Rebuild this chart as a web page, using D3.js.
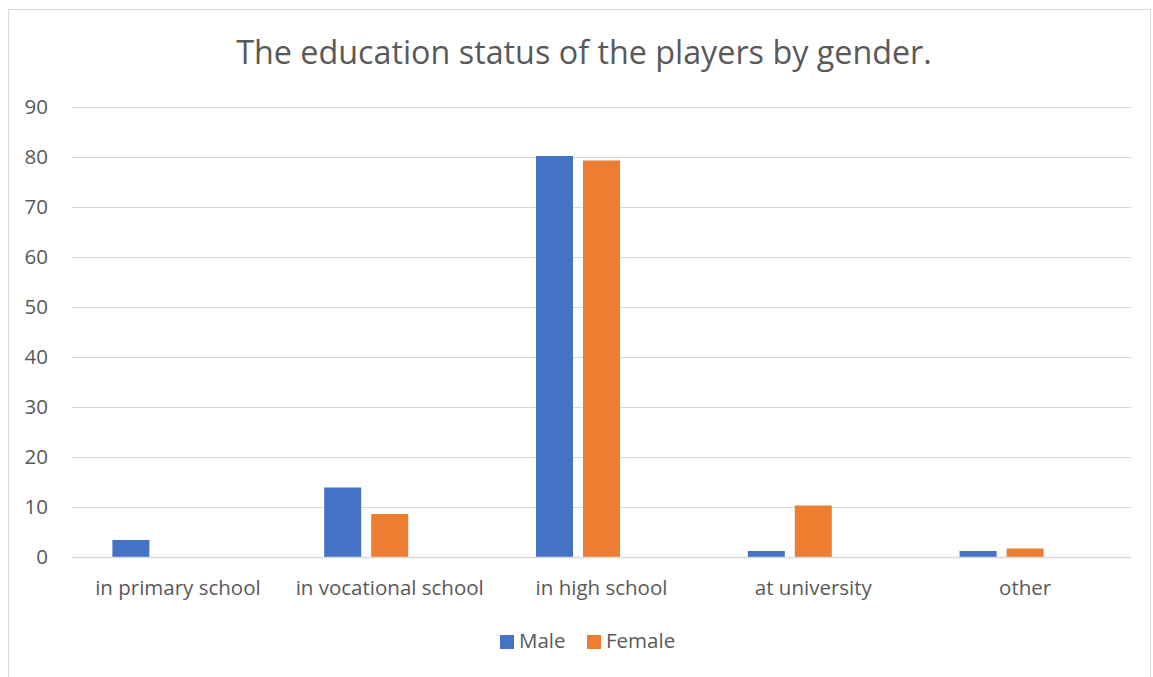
<!DOCTYPE html>
<html><head><meta charset="utf-8">
<script src="https://cdn.jsdelivr.net/npm/d3@7"></script>
<style>body{margin:0;background:#fff;} svg{display:block;}</style>
</head><body>
<svg id="chart" width="1153" height="677"></svg>
<script>
const categories = ["in primary school","in vocational school","in high school","at university","other"];
const seriesNames = ["Male","Female"];
const maleValues = [3.4, 13.9, 80.2, 1.2, 1.2];
const femaleValues = [0, 8.6, 79.3, 10.3, 1.7];
const yTicks = [0,10,20,30,40,50,60,70,80,90];
const titleText = "The education status of the players by gender.";
const colors = ["#4472c4","#ed7d31"];

(function(){
const svg = d3.select("#chart");
const font = "'Open Sans', sans-serif";
const textColor = "#595959";

// frame
svg.append("rect").attr("x",8.5).attr("y",9.5).attr("width",1142).attr("height",700)
  .attr("fill","#fff").attr("stroke","#d9d9d9").attr("stroke-width",1);

const pLeft = 72, pRight = 1131, pTop = 107, pBottom = 557;
const x = d3.scaleBand().domain(categories).range([pLeft,pRight]).paddingInner(0).paddingOuter(0);
// Excel layout: 3 slots (third series empty)
const slotW = 37, gap = 10;
const y = d3.scaleLinear().domain([0,90]).range([pBottom,pTop]);

svg.append("text").attr("x",584).attr("y",64).attr("text-anchor","middle")
  .attr("font-family",font).attr("font-size",32.3).attr("fill",textColor).text(titleText);

// gridlines
svg.append("g").selectAll("line").data(yTicks).join("line")
  .attr("x1",pLeft).attr("x2",pRight)
  .attr("y1",d=>Math.round(y(d))+0.5).attr("y2",d=>Math.round(y(d))+0.5)
  .attr("stroke","#d9d9d9").attr("stroke-width",1);

// y axis labels
const yAxis = d3.axisLeft(y).tickValues(yTicks).tickSize(0).tickPadding(0);
const yg = svg.append("g").attr("transform",`translate(${48},0)`).call(yAxis);
yg.select(".domain").remove();
yg.selectAll("text").attr("font-family",font).attr("font-size",20.5).attr("fill",textColor);

// bars
const data = [maleValues, femaleValues];
const groupW = 3*slotW + 2*gap;
data.forEach((vals,si)=>{
  svg.append("g").selectAll("rect").data(vals.map((v,i)=>({v,c:categories[i]}))).join("rect")
    .attr("x",d=>x(d.c)+x.bandwidth()/2 - groupW/2 + si*(slotW+gap))
    .attr("width",slotW)
    .attr("y",d=>y(d.v)).attr("height",d=>y(0)-y(d.v))
    .attr("fill",colors[si]);
});
// baseline
svg.append("line").attr("x1",pLeft).attr("x2",pRight).attr("y1",pBottom+0.5).attr("y2",pBottom+0.5)
  .attr("stroke","#d9d9d9").attr("stroke-width",1.5);

// x labels
const xAxis = d3.axisBottom(x).tickSize(0).tickPadding(0);
const xg = svg.append("g").attr("transform",`translate(0,${595})`).call(xAxis);
xg.select(".domain").remove();
xg.selectAll("text").attr("font-family",font).attr("font-size",20.5).attr("fill",textColor).attr("dy",0);

// legend
const legendItems = [{n:seriesNames[0],x:500},{n:seriesNames[1],x:587}];
const lg = svg.append("g");
legendItems.forEach((d,i)=>{
  lg.append("rect").attr("x",d.x).attr("y",635).attr("width",14).attr("height",14).attr("fill",colors[i]);
  lg.append("text").attr("x",d.x+19).attr("y",648).attr("font-family",font).attr("font-size",20.5)
    .attr("fill",textColor).text(d.n);
});
})();
</script>
</body></html>
